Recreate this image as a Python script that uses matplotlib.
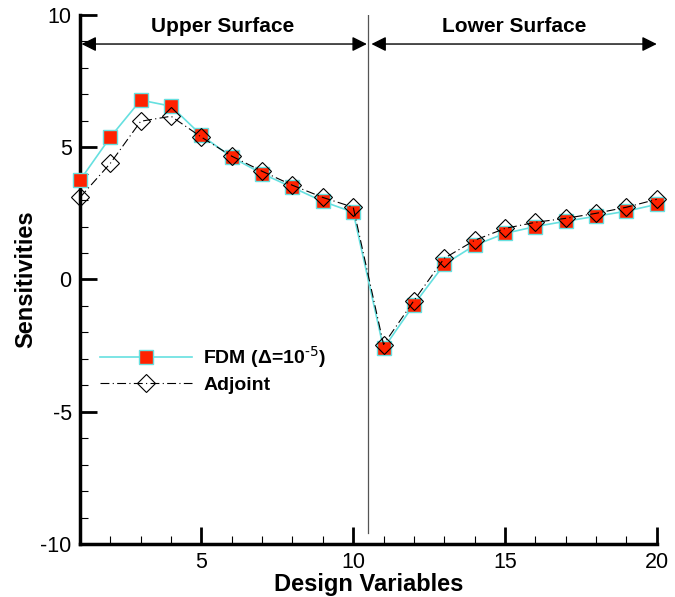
import matplotlib
matplotlib.use('Agg')
import matplotlib.pyplot as plt
from matplotlib.ticker import MultipleLocator

plt.rcParams['font.family'] = ['Liberation Sans', 'DejaVu Sans']
plt.rcParams['axes.unicode_minus'] = False
plt.rcParams['mathtext.default'] = 'regular'

# Datos
variables = list(range(1, 21))
fdm = [3.75, 5.38, 6.78, 6.55, 5.45, 4.62, 4.0, 3.48, 2.95, 2.54,
       -2.61, -0.95, 0.57, 1.29, 1.74, 2.0, 2.2, 2.39, 2.58, 2.84]
adjoint = [3.1, 4.39, 5.98, 6.17, 5.38, 4.66, 4.09, 3.56, 3.1, 2.73,
           -2.46, -0.8, 0.8, 1.48, 1.93, 2.16, 2.31, 2.5, 2.73, 3.03]

fig = plt.figure(figsize=(6.75, 5.97), dpi=100)
ax = fig.add_axes([0.1185, 0.0888, 0.8545, 0.8862])

ax.plot(variables, fdm, color='#66e0e0', lw=1.2, marker='s', ms=10,
        mfc='#ff2200', mec='#66e0e0', mew=1.0, label='FDM ($\\Delta$=10$^{\\text{-5}}$)',
        zorder=3, clip_on=False)
ax.plot(variables, adjoint, color='black', lw=0.8, ls=(0, (8, 3, 1, 3)), marker='D', ms=9,
        mfc='none', mec='black', mew=0.8, label='Adjoint', zorder=4, clip_on=False)

# separacion entre superficies
ax.plot([10.5, 10.5], [10, -9.6], color='#555555', lw=0.9, zorder=1)

# flechas
arrow = dict(arrowstyle='<|-|>', color='black', lw=1.0, mutation_scale=22, shrinkA=0, shrinkB=0)
ax.annotate('', xy=(1.05, 8.9), xytext=(10.45, 8.9), arrowprops=arrow)
ax.annotate('', xy=(10.6, 8.9), xytext=(20, 8.9), arrowprops=arrow)
ax.text(5.7, 9.55, 'Upper Surface', ha='center', va='center', fontsize=15, fontweight='bold')
ax.text(15.3, 9.55, 'Lower Surface', ha='center', va='center', fontsize=15, fontweight='bold')

ax.set_xlim(1, 20)
ax.set_ylim(-10, 10)
ax.xaxis.set_major_locator(MultipleLocator(5))
ax.xaxis.set_minor_locator(MultipleLocator(1))
ax.yaxis.set_major_locator(MultipleLocator(5))
ax.yaxis.set_minor_locator(MultipleLocator(1))
ax.spines['top'].set_visible(False)
ax.spines['right'].set_visible(False)
ax.spines['left'].set_linewidth(2.5)
ax.spines['bottom'].set_linewidth(2.5)
ax.tick_params(which='major', direction='in', length=12, width=2, labelsize=15.5, pad=6)
ax.tick_params(which='minor', direction='in', length=6, width=0.8)

ax.set_xlabel('Design Variables', fontsize=17, fontweight='bold', labelpad=0)
ax.set_ylabel('Sensitivities', fontsize=17, fontweight='bold', labelpad=2)

leg = ax.legend(loc='upper left', bbox_to_anchor=(0.005, 0.41), frameon=False,
                handlelength=4.7, handletextpad=0.6, prop={'size': 14, 'weight': 'bold'},
                labelspacing=0.35)

fig.savefig('out.png', dpi=100)
